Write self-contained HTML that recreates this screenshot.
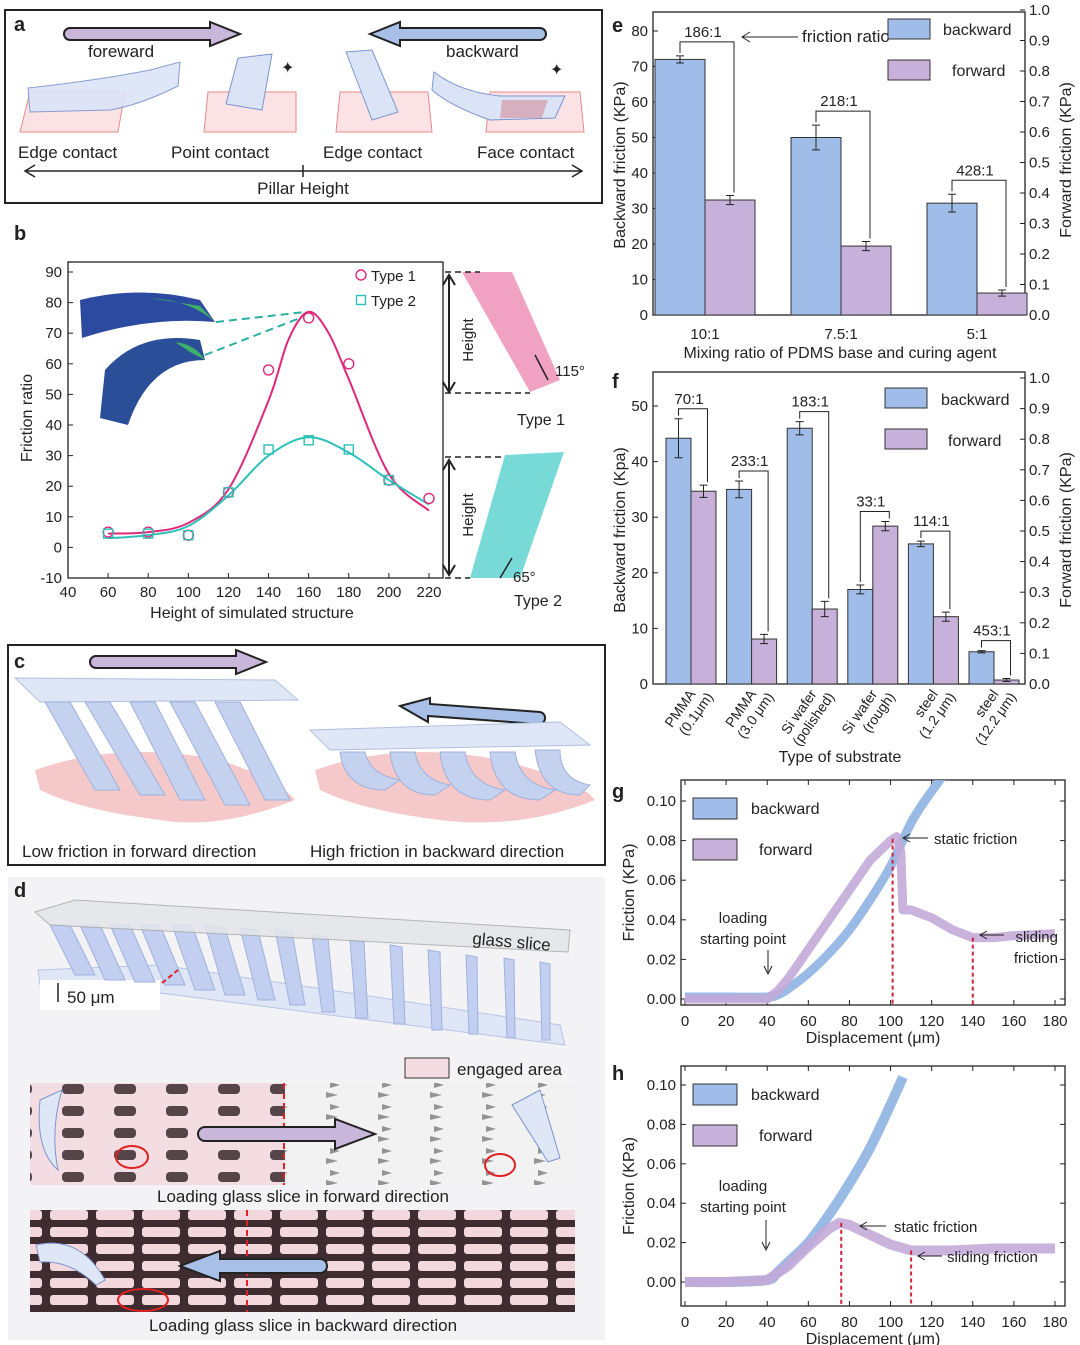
<!DOCTYPE html>
<html><head><meta charset="utf-8">
<style>
html,body{margin:0;padding:0;background:#fff;}
svg{display:block;font-family:"Liberation Sans",Arial,sans-serif;}
text{fill:#222;}
</style></head>
<body>
<svg id="fig" width="1080" height="1345" viewBox="0 0 1080 1345" xmlns="http://www.w3.org/2000/svg">
<defs>
 <pattern id="dashpat" width="52" height="22" patternUnits="userSpaceOnUse"><rect x="10" y="6" width="22" height="10" rx="4" fill="#3a2a2e" opacity="0.85"/></pattern>
 <pattern id="dashpat2" width="52" height="22" patternUnits="userSpaceOnUse"><path d="M18 4 l10 3 l-10 3z M14 14 l12 3 l-12 3z" fill="#555" opacity="0.6"/></pattern>
 <pattern id="gridpat" width="46" height="17" patternUnits="userSpaceOnUse"><rect width="46" height="17" fill="#3f2c30"/><rect x="4" y="3" width="38" height="10" rx="3" fill="#f2d8dd"/></pattern>
</defs>

<!-- PANEL A -->
<g>
 <rect x="5" y="10" width="597" height="193" fill="none" stroke="#222" stroke-width="2"/>
 <text x="14" y="31" font-size="20" font-weight="bold">a</text>
 <path d="M70 28 h140 v-6 l30 12 l-30 12 v-6 h-140 a6 6 0 0 1 0 -12z" fill="#c9b6db" stroke="#222" stroke-width="2"/>
 <text x="88" y="57" font-size="17">foreward</text>
 <path d="M540 28 h-140 v-6 l-30 12 l30 12 v-6 h140 a6 6 0 0 0 0 -12z" fill="#a8c0e8" stroke="#222" stroke-width="2"/>
 <text x="446" y="57" font-size="17">backward</text>
 <polygon points="30,92 125,92 118,132 20,132" fill="#fbe3e5" stroke="#e58a8a"/>
 <path d="M28 88 Q100 80 150 70 L180 62 L178 86 Q140 105 110 110 L30 112z" fill="#dbe4f7" stroke="#7c95cf" opacity="0.9"/>
 <polygon points="208,92 296,92 296,132 204,132" fill="#fbe3e5" stroke="#e58a8a"/>
 <polygon points="238,58 272,54 262,110 226,104" fill="#dbe4f7" stroke="#7c95cf"/>
 <text x="281" y="73" font-size="16" fill="#4a5ab0">✦</text>
 <polygon points="340,92 428,92 432,132 336,132" fill="#fbe3e5" stroke="#e58a8a"/>
 <polygon points="346,52 372,50 398,112 372,120" fill="#dbe4f7" stroke="#7c95cf"/>
 <polygon points="490,92 580,92 584,132 486,132" fill="#fbe3e5" stroke="#e58a8a"/>
 <path d="M434 72 Q460 92 500 96 L565 96 L555 118 L490 120 Q450 106 432 90z" fill="#dbe4f7" stroke="#7c95cf"/>
 <polygon points="502,100 548,100 542,118 500,118" fill="#d59aa8" opacity="0.7"/>
 <text x="550" y="75" font-size="16" fill="#4a5ab0">✦</text>
 <text x="18" y="158" font-size="17">Edge contact</text>
 <text x="171" y="158" font-size="17">Point contact</text>
 <text x="323" y="158" font-size="17">Edge contact</text>
 <text x="477" y="158" font-size="17">Face contact</text>
 <line x1="25" y1="171" x2="582" y2="171" stroke="#222" stroke-width="1.5"/>
 <path d="M35 165 L25 171 L35 177 M572 165 L582 171 L572 177" fill="none" stroke="#222" stroke-width="1.5"/>
 <line x1="303" y1="165" x2="303" y2="177" stroke="#222" stroke-width="1.5"/>
 <text x="303" y="194" font-size="17" text-anchor="middle">Pillar Height</text>
</g>

<!-- PANEL B -->
<g id="pb">
 <text x="14" y="240" font-size="20" font-weight="bold">b</text>
 <path d="M80 300 Q140 285 200 300 L215 322 Q150 316 82 338z" fill="#2b4aa0"/>
 <path d="M150 298 Q190 300 215 322 L200 306z" fill="#3eae6a"/>
 <path d="M105 370 Q140 330 200 340 L205 360 Q150 360 128 425 L100 418z" fill="#2a4e98"/>
 <path d="M175 342 Q195 344 205 360 L190 352z" fill="#3eae6a"/>
 <line x1="216" y1="322" x2="305" y2="312" stroke="#2ab0a0" stroke-width="2" stroke-dasharray="8,5"/>
 <line x1="205" y1="355" x2="300" y2="318" stroke="#2ab0a0" stroke-width="2" stroke-dasharray="8,5"/>
 <polygon points="462,272 512,272 560,380 530,392" fill="#ef90b6" opacity="0.85"/>
 <line x1="449" y1="275" x2="449" y2="392" stroke="#222" stroke-width="2"/>
 <path d="M443 285 L449 275 L455 285 M443 382 L449 392 L455 382" fill="none" stroke="#222" stroke-width="2"/>
 <line x1="445" y1="272" x2="480" y2="272" stroke="#222" stroke-width="1.5" stroke-dasharray="6,4"/>
 <line x1="445" y1="393" x2="530" y2="393" stroke="#222" stroke-width="1.5" stroke-dasharray="6,4"/>
 <text x="473" y="340" font-size="15" transform="rotate(-90 473 340)" text-anchor="middle">Height</text>
 <line x1="548" y1="380" x2="535" y2="355" stroke="#222" stroke-width="1.5"/>
 <text x="555" y="376" font-size="15">115°</text>
 <text x="517" y="425" font-size="16">Type 1</text>
 <polygon points="505,455 564,452 520,578 470,578" fill="#5fd3d0" opacity="0.85"/>
 <line x1="449" y1="460" x2="449" y2="575" stroke="#222" stroke-width="2"/>
 <path d="M443 470 L449 460 L455 470 M443 565 L449 575 L455 565" fill="none" stroke="#222" stroke-width="2"/>
 <line x1="445" y1="457" x2="505" y2="457" stroke="#222" stroke-width="1.5" stroke-dasharray="6,4"/>
 <line x1="445" y1="578" x2="470" y2="578" stroke="#222" stroke-width="1.5" stroke-dasharray="6,4"/>
 <text x="473" y="515" font-size="15" transform="rotate(-90 473 515)" text-anchor="middle">Height</text>
 <line x1="500" y1="578" x2="512" y2="558" stroke="#222" stroke-width="1.5"/>
 <text x="513" y="582" font-size="15">65°</text>
 <text x="514" y="606" font-size="16">Type 2</text>
</g>

<!-- PANEL C -->
<g>
 <rect x="8" y="645" width="597" height="220" fill="none" stroke="#222" stroke-width="2"/>
 <text x="14" y="668" font-size="20" font-weight="bold">c</text>
 <path d="M96 656 h140 v-6 l30 12 l-30 12 v-6 h-140 a6 6 0 0 1 0 -12z" fill="#c9b6db" stroke="#222" stroke-width="2"/>
 <path d="M540 712 l-110 -8 v-6 l-30 8 l28 16 v-6 l110 8 a6 6 0 0 0 2 -12z" fill="#a8c0e8" stroke="#222" stroke-width="2"/>
 <path d="M35 770 Q120 740 220 760 Q280 780 295 800 Q220 830 160 820 Q80 810 40 790z" fill="#f5c9c9"/>
 <polygon points="15,678 275,680 298,700 40,702" fill="#dfe6f6" stroke="#b0bfe0"/>
 <g fill="#c5d2ef" stroke="#9fb1dd">
  <polygon points="45,702 70,702 120,790 95,790"/><polygon points="85,702 110,702 165,795 140,795"/>
  <polygon points="130,702 155,702 205,800 180,800"/><polygon points="170,702 195,702 250,805 225,805"/>
  <polygon points="215,702 240,702 290,800 265,800"/>
 </g>
 <path d="M315 770 Q400 740 500 760 Q580 780 595 800 Q520 830 440 820 Q360 810 320 790z" fill="#f5c9c9"/>
 <polygon points="310,730 560,722 590,745 330,750" fill="#dfe6f6" stroke="#b0bfe0"/>
 <g fill="#c5d2ef" stroke="#9fb1dd">
  <path d="M340 752 Q345 790 385 790 L400 780 Q370 775 365 752z"/><path d="M390 752 Q395 795 435 795 L450 785 Q420 780 415 752z"/>
  <path d="M440 752 Q445 800 490 800 L505 790 Q470 785 465 752z"/><path d="M490 752 Q495 800 540 800 L555 790 Q520 785 515 752z"/>
  <path d="M535 750 Q540 795 580 795 L590 785 Q560 780 560 750z"/>
 </g>
 <text x="22" y="857" font-size="17">Low friction in forward direction</text>
 <text x="310" y="857" font-size="17">High friction in backward direction</text>
</g>

<!-- PANEL D -->
<g>
 <rect x="8" y="877" width="597" height="463" fill="#f3f3f5"/>
 <text x="14" y="897" font-size="20" font-weight="bold">d</text>
 <path d="M38 970 L160 965 L330 990 L560 1025 L565 1045 L330 1015 L160 993 L40 985z" fill="#dfe6f6" stroke="#b7c4e6"/>
 <rect x="40" y="980" width="120" height="30" fill="#fff"/>
 <g fill="#c2cff0" stroke="#9fb1dd">
  <polygon points="50,925 70,925 95,975 75,975"/><polygon points="80,925 100,925 125,980 105,980"/>
  <polygon points="110,925 130,925 155,982 135,982"/><polygon points="140,925 160,925 185,985 165,985"/>
  <polygon points="172,925 192,925 215,990 195,990"/><polygon points="205,925 225,928 245,995 225,995"/>
  <polygon points="240,928 258,930 275,1000 258,1000"/><polygon points="275,930 292,932 305,1005 290,1005"/>
  <polygon points="312,935 328,937 335,1012 322,1012"/><polygon points="350,940 364,942 368,1018 356,1018"/>
  <polygon points="390,945 402,947 405,1024 394,1024"/><polygon points="428,950 440,952 442,1030 432,1030"/>
  <polygon points="466,955 477,957 478,1034 469,1034"/><polygon points="504,958 514,960 515,1038 507,1038"/>
  <polygon points="540,962 550,964 550,1040 542,1040"/>
 </g>
 <polygon points="35,912 75,900 570,930 568,952 50,925" fill="#e4e6ea" stroke="#aaa" opacity="0.85"/>
 <text x="472" y="944" font-size="17" transform="rotate(5 472 944)">glass slice</text>
 <line x1="58" y1="983" x2="58" y2="1002" stroke="#222" stroke-width="1.5"/>
 <text x="67" y="1003" font-size="17">50 μm</text>
 <line x1="162" y1="983" x2="178" y2="970" stroke="#d22" stroke-width="2" stroke-dasharray="5,3"/>
 <rect x="405" y="1058" width="44" height="20" fill="#f4dde2" stroke="#333"/>
 <text x="457" y="1075" font-size="17">engaged area</text>
 <g>
  <rect x="30" y="1083" width="255" height="102" fill="#f4dde2"/>
  <rect x="30" y="1083" width="255" height="102" fill="url(#dashpat)"/>
  <rect x="285" y="1083" width="290" height="102" fill="#f2f2f2"/>
  <rect x="285" y="1083" width="290" height="102" fill="url(#dashpat2)"/>
  <line x1="284" y1="1083" x2="284" y2="1185" stroke="#d22" stroke-width="2" stroke-dasharray="6,4"/>
  <path d="M205 1127 h130 v-8 l40 15 l-40 15 v-8 h-130 a7 7 0 0 1 0 -14z" fill="#c9b6db" stroke="#222" stroke-width="2"/>
  <ellipse cx="132" cy="1157" rx="16" ry="11" fill="none" stroke="#d22" stroke-width="2"/>
  <ellipse cx="500" cy="1165" rx="15" ry="11" fill="none" stroke="#d22" stroke-width="2"/>
  <path d="M40 1100 L62 1090 Q50 1130 58 1170 Q35 1150 40 1100z" fill="#dfe7f6" stroke="#7c95cf"/>
  <polygon points="512,1105 540,1090 560,1158 548,1162" fill="#dfe7f6" stroke="#7c95cf"/>
 </g>
 <text x="303" y="1202" font-size="17" text-anchor="middle">Loading glass slice in forward direction</text>
 <g>
  <rect x="30" y="1210" width="545" height="102" fill="url(#gridpat)"/>
  <line x1="247" y1="1210" x2="247" y2="1312" stroke="#d22" stroke-width="2" stroke-dasharray="6,4"/>
  <path d="M320 1259 h-100 v-8 l-40 15 l40 15 v-8 h100 a7 7 0 0 0 0 -14z" fill="#a8c0e8" stroke="#222" stroke-width="2"/>
  <ellipse cx="143" cy="1300" rx="25" ry="11" fill="none" stroke="#d22" stroke-width="2"/>
  <path d="M36 1245 Q80 1235 105 1280 L96 1285 Q70 1260 40 1262z" fill="#dfe7f6" stroke="#7c95cf"/>
 </g>
 <text x="303" y="1331" font-size="17" text-anchor="middle">Loading glass slice in backward direction</text>
</g>

<text x="612" y="32" font-size="20" font-weight="bold">e</text>
<text x="612" y="388" font-size="20" font-weight="bold">f</text>
<text x="612" y="798" font-size="20" font-weight="bold">g</text>
<text x="612" y="1080" font-size="20" font-weight="bold">h</text>
<g id="charts"></g>
</svg>

<script>
// ===== Panel b data =====
const bXTicks = [40,60,80,100,120,140,160,180,200,220];
const bYTicks = [-10,0,10,20,30,40,50,60,70,80,90];
const bType1X = [60,80,100,120,140,160,180,200,220];
const bType1Y = [5,5,4,18,58,75,60,22,16];
const bType2X = [60,80,100,120,140,160,180,200];
const bType2Y = [4.5,4.5,4,18,32,35,32,22];
const bFit1X = [60,80,100,120,140,150,160,170,180,200,220];
const bFit1Y = [4.5,5,8,19,48,68,77,70,55,24,12];
const bFit2X = [60,80,100,120,140,160,180,200,220];
const bFit2Y = [3,4,7,17,30,36,31,22,14];
// ===== Panel e data =====
const eCats = ["10:1","7.5:1","5:1"];
const eBackward = [72,50,31.5];
const eBackErr = [1,3.5,2.5];
const eForward = [0.377,0.226,0.072];
const eFwdErr = [0.015,0.015,0.01];
const eRatios = ["186:1","218:1","428:1"];
const eLeftTicks = [0,10,20,30,40,50,60,70,80];
const eRightTicks = [0,0.1,0.2,0.3,0.4,0.5,0.6,0.7,0.8,0.9,1.0];
// ===== Panel f data =====
const fCats = [["PMMA","(0.1μm)"],["PMMA","(3.0 μm)"],["Si wafer","(polished)"],["Si wafer","(rough)"],["steel","(1.2 μm)"],["steel","(12.2 μm)"]];
const fBackward = [44.2,35,46,17,25.2,5.8];
const fBackErr = [3.5,1.5,1.2,0.8,0.5,0.2];
const fForward = [0.63,0.147,0.245,0.516,0.22,0.013];
const fFwdErr = [0.02,0.015,0.025,0.015,0.015,0.005];
const fRatios = ["70:1","233:1","183:1","33:1","114:1","453:1"];
const fLeftTicks = [0,10,20,30,40,50];
const fRightTicks = [0,0.1,0.2,0.3,0.4,0.5,0.6,0.7,0.8,0.9,1.0];
// ===== Panel g data =====
const gXTicks = [0,20,40,60,80,100,120,140,160,180];
const gYTicks = [0,0.02,0.04,0.06,0.08,0.10];
const gBackX = [0,20,40,45,50,60,70,80,90,100,110,118,125];
const gBackY = [0.001,0.001,0.001,0.002,0.005,0.013,0.023,0.035,0.05,0.067,0.089,0.102,0.112];
const gFwdX = [0,20,40,45,50,60,70,80,90,100,103,105,106,110,120,130,140,150,160,180];
const gFwdY = [0,0,0,0.004,0.01,0.025,0.04,0.055,0.07,0.08,0.082,0.074,0.045,0.045,0.041,0.035,0.031,0.031,0.032,0.033];
// ===== Panel h data =====
const hXTicks = [0,20,40,60,80,100,120,140,160,180];
const hYTicks = [0,0.02,0.04,0.06,0.08,0.10];
const hBackX = [0,20,40,45,50,60,70,80,90,100,106];
const hBackY = [0,0,0.001,0.005,0.01,0.02,0.034,0.05,0.068,0.09,0.104];
const hFwdX = [0,20,40,50,60,70,75,80,90,100,110,130,150,180];
const hFwdY = [0,0,0.001,0.008,0.018,0.027,0.03,0.029,0.024,0.019,0.016,0.016,0.017,0.017];

const NS = "http://www.w3.org/2000/svg";
const root = document.getElementById("charts");
function mk(tag, attrs, parent){ const e=document.createElementNS(NS,tag); for(const k in attrs) e.setAttribute(k,attrs[k]); (parent||root).appendChild(e); return e; }
function txt(x,y,s,size,anchor,parent){ const t=mk("text",{x:x,y:y,"font-size":size||15,"text-anchor":anchor||"start"},parent); t.textContent=s; return t; }
function smooth(pts){ let d="M"+pts[0][0]+" "+pts[0][1]; for(let i=0;i<pts.length-1;i++){ const p0=pts[i-1]||pts[i],p1=pts[i],p2=pts[i+1],p3=pts[i+2]||p2; d+=" C"+(p1[0]+(p2[0]-p0[0])/6)+" "+(p1[1]+(p2[1]-p0[1])/6)+" "+(p2[0]-(p3[0]-p1[0])/6)+" "+(p2[1]-(p3[1]-p1[1])/6)+" "+p2[0]+" "+p2[1]; } return d; }
const BLUE="#9fbde8", PURP="#c7b1da";

// ---------- Panel b ----------
(function(){
 const g=mk("g",{});
 
 
 const L=68,R=443,T=262,B=578;
 const xs=v=>68+(v-40)*(429-68)/180, ys=v=>578-(v+10)*3.06;
 mk("rect",{x:L,y:T,width:R-L,height:B-T,fill:"none",stroke:"#222","stroke-width":1.3},g);
 bXTicks.forEach(v=>{ mk("line",{x1:xs(v),y1:B,x2:xs(v),y2:B-5,stroke:"#222"},g); const t=txt(xs(v),597,String(v),15,"middle",g);   });
 bYTicks.forEach(v=>{ mk("line",{x1:L,y1:ys(v),x2:L+5,y2:ys(v),stroke:"#222"},g); const t=txt(L-6,ys(v)+5,String(v),15,"end",g);   });
 const xt=txt(252,618,"Height of simulated structure",16,"middle",g);
  
 const yt=txt(0,0,"Friction ratio",16,"middle",g); yt.setAttribute("transform","translate(32 418) rotate(-90)");
  
 const f1=mk("path",{d:smooth(bFit1X.map((x,i)=>[xs(x),ys(bFit1Y[i])])),fill:"none",stroke:"#e0287a","stroke-width":2},g);
  
 const f2=mk("path",{d:smooth(bFit2X.map((x,i)=>[xs(x),ys(bFit2Y[i])])),fill:"none",stroke:"#2cc0b8","stroke-width":2},g);
  
 bType1X.forEach((x,i)=>{ const c=mk("circle",{cx:xs(x),cy:ys(bType1Y[i]),r:5,fill:"none",stroke:"#e0287a","stroke-width":1.4},g);   });
 bType2X.forEach((x,i)=>{ const c=mk("rect",{x:xs(x)-4.5,y:ys(bType2Y[i])-4.5,width:9,height:9,fill:"none",stroke:"#2cc0b8","stroke-width":1.4},g);   });
 mk("circle",{cx:361,cy:275,r:5,fill:"none",stroke:"#e0287a","stroke-width":1.4},g);
 txt(371,281,"Type 1",15,"start",g);
 mk("rect",{x:356.5,y:295.5,width:9,height:9,fill:"none",stroke:"#2cc0b8","stroke-width":1.4},g);
 txt(371,306,"Type 2",15,"start",g);
})();

// ---------- bar charts ----------
function barChart(o){
 const g=mk("g",{});
 
 
 const yl=v=>o.B-v*o.lk, yr=v=>o.B-v*o.rk;
 mk("rect",{x:o.L,y:o.T,width:o.R-o.L,height:o.B-o.T,fill:"none",stroke:"#222","stroke-width":1.3},g);
 o.leftTicks.forEach(v=>{ mk("line",{x1:o.L,y1:yl(v),x2:o.L+5,y2:yl(v),stroke:"#222"},g); const t=txt(o.L-5,yl(v)+5,String(v),15,"end",g);   });
 o.rightTicks.forEach(v=>{ mk("line",{x1:o.R,y1:yr(v),x2:o.R-5,y2:yr(v),stroke:"#222"},g); const t=txt(o.R+4,yr(v)+5,v.toFixed(1),15,"start",g);   });
 o.back.forEach((v,i)=>{
  const x=o.x0+i*o.step;
  const b=mk("rect",{x:x,y:yl(v),width:o.bw,height:v*o.lk,fill:BLUE,stroke:"#333","stroke-width":1},g);
   
  const e1=mk("path",{d:`M${x+o.bw/2} ${yl(v+o.backErr[i])} V${yl(v-o.backErr[i])} M${x+o.bw/2-4} ${yl(v+o.backErr[i])} h8 M${x+o.bw/2-4} ${yl(v-o.backErr[i])} h8`,stroke:"#222",fill:"none"},g);
   
  const fv=o.fwd[i], fx=x+o.bw;
  const f=mk("rect",{x:fx,y:yr(fv),width:o.bw,height:fv*o.rk,fill:PURP,stroke:"#333","stroke-width":1},g);
   
  const e2=mk("path",{d:`M${fx+o.bw/2} ${yr(fv+o.fwdErr[i])} V${yr(fv-o.fwdErr[i])} M${fx+o.bw/2-4} ${yr(fv+o.fwdErr[i])} h8 M${fx+o.bw/2-4} ${yr(fv-o.fwdErr[i])} h8`,stroke:"#222",fill:"none"},g);
   
  const topY=Math.min(yl(v+o.backErr[i]),yr(fv+o.fwdErr[i]))-o.br;
  const br=mk("path",{d:`M${x+o.bw/2} ${yl(v+o.backErr[i])-3} V${topY} H${fx+o.bw/2+4} V${yr(fv+o.fwdErr[i])-3}`,stroke:"#222",fill:"none"},g);
   
  const rt=txt(x+o.bw-2,topY-5,o.ratios[i],15,"middle",g);
   
  o.catLabel(g,x,i);
 });
 return g;
}
const ge=barChart({name:"mixing-ratio-chart",L:653,R:1025,T:12,B:315,lk:3.55,rk:305,x0:655,step:136,bw:50,br:14,
 back:eBackward,backErr:eBackErr,fwd:eForward,fwdErr:eFwdErr,ratios:eRatios,leftTicks:eLeftTicks,rightTicks:eRightTicks,
 catLabel:(g,x,i)=>{ const t=txt(x+50,339,eCats[i],15,"middle",g);   }});
(function(){
 const t=txt(840,358,"Mixing ratio of PDMS base and curing agent",16,"middle",ge);  
 const y1=txt(0,0,"Backward friction (KPa)",16,"middle",ge); y1.setAttribute("transform","translate(625 165) rotate(-90)");  
 const y2=txt(0,0,"Forward friction (KPa)",16,"middle",ge); y2.setAttribute("transform","translate(1071 160) rotate(-90)");  
 mk("path",{d:"M742 37 H798 M750 32 L742 37 L750 42",stroke:"#222",fill:"none"},ge);
 txt(802,42,"friction ratio",17,"start",ge);
 const l1=mk("rect",{x:888,y:19,width:42,height:20,fill:BLUE,stroke:"#333"},ge);  
 txt(943,35,"backward",16,"start",ge);
 const l2=mk("rect",{x:888,y:60,width:42,height:20,fill:PURP,stroke:"#333"},ge);  
 txt(952,76,"forward",16,"start",ge);
})();
const gf=barChart({name:"substrate-chart",L:653,R:1025,T:372,B:684,lk:5.56,rk:306,x0:666,step:60.6,bw:25,br:10,
 back:fBackward,backErr:fBackErr,fwd:fForward,fwdErr:fFwdErr,ratios:fRatios,leftTicks:fLeftTicks,rightTicks:fRightTicks,
 catLabel:(g,x,i)=>{ const t=mk("text",{"font-size":14,"text-anchor":"end",transform:`translate(${x+30} 694) rotate(-55)`},g);  
   const a=mk("tspan",{x:0,dy:0},t); a.textContent=fCats[i][0]; const b=mk("tspan",{x:8,dy:16},t); b.textContent=fCats[i][1]; }});
(function(){
 const t=txt(840,762,"Type of substrate",16,"middle",gf);  
 const y1=txt(0,0,"Backward friction (Kpa)",16,"middle",gf); y1.setAttribute("transform","translate(625 530) rotate(-90)");  
 const y2=txt(0,0,"Forward friction (KPa)",16,"middle",gf); y2.setAttribute("transform","translate(1071 530) rotate(-90)");  
 const l1=mk("rect",{x:885,y:388,width:42,height:20,fill:BLUE,stroke:"#333"},gf);  
 txt(941,405,"backward",16,"start",gf);
 const l2=mk("rect",{x:885,y:429,width:42,height:20,fill:PURP,stroke:"#333"},gf);  
 txt(948,446,"forward",16,"start",gf);
})();

function lineChart(o){
 const g=mk("g",{});
 
 
 const xs=v=>685+v*(1055-685)/180, ys=v=>o.y0-v*o.k;
 mk("rect",{x:681,y:o.T,width:384,height:o.B-o.T,fill:"none",stroke:"#222","stroke-width":1.3},g);
 o.xTicks.forEach(v=>{ mk("line",{x1:xs(v),y1:o.B,x2:xs(v),y2:o.B-5,stroke:"#222"},g); mk("line",{x1:xs(v),y1:o.T,x2:xs(v),y2:o.T+5,stroke:"#222"},g); const t=txt(xs(v),o.B+21,String(v),15,"middle",g);   });
 o.yTicks.forEach(v=>{ mk("line",{x1:681,y1:ys(v),x2:686,y2:ys(v),stroke:"#222"},g); mk("line",{x1:1065,y1:ys(v),x2:1060,y2:ys(v),stroke:"#222"},g); const t=txt(676,ys(v)+5,v.toFixed(2),15,"end",g);   });
 const cp=mk("clipPath",{id:o.name+"-clip"},g); mk("rect",{x:681,y:o.T,width:384,height:o.B-o.T},cp);
 const inner=mk("g",{"clip-path":`url(#${o.name}-clip)`},g);
 const pb=mk("path",{d:smooth(o.bx.map((x,i)=>[xs(x),ys(o.by[i])])),fill:"none",stroke:"#8fb2e3","stroke-width":o.w,"stroke-linejoin":"round",opacity:0.9},inner);
  
 const pf=mk("path",{d:"M"+o.fx.map((x,i)=>xs(x)+" "+ys(o.fy[i])).join(" L"),fill:"none",stroke:"#c3aad8","stroke-width":o.w,"stroke-linejoin":"round",opacity:0.9},inner);
  
 const xt=txt(873,o.B+38,"Displacement (μm)",16,"middle",g);  
 const yt=txt(0,0,"Friction (KPa)",16,"middle",g); yt.setAttribute("transform",`translate(634 ${(o.T+o.B)/2}) rotate(-90)`);  
 const l1=mk("rect",{x:693,y:o.T+18,width:44,height:21,fill:BLUE,stroke:"#333"},g);  
 txt(751,o.T+34,"backward",16,"start",g);
 const l2=mk("rect",{x:693,y:o.T+59,width:44,height:21,fill:PURP,stroke:"#333"},g);  
 txt(759,o.T+75,"forward",16,"start",g);
 o.markers.forEach(m=>{ const d=mk("line",{x1:xs(m[0]),y1:ys(m[1]),x2:xs(m[0]),y2:o.B,stroke:"#d0243a","stroke-width":2,"stroke-dasharray":"4,3"},g);   });
 return {g,xs,ys};
}
const G=lineChart({name:"panel-g-chart",T:780,B:1005,y0:999,k:1980,xTicks:gXTicks,yTicks:gYTicks,bx:gBackX,by:gBackY,fx:gFwdX,fy:gFwdY,w:9,markers:[[101,0.081],[140,0.031]]});
txt(743,923,"loading",15,"middle",G.g); txt(743,944,"starting point",15,"middle",G.g);
mk("path",{d:"M768 950 V972 M764 966 L768 974 L772 966",stroke:"#222",fill:"none"},G.g);
mk("path",{d:"M903 838 H928 M910 834 L903 838 L910 842",stroke:"#222",fill:"none"},G.g);
txt(934,844,"static friction",15,"start",G.g);
mk("path",{d:"M980 935 H1004 M987 931 L980 935 L987 939",stroke:"#222",fill:"none"},G.g);
txt(1058,942,"sliding",15,"end",G.g); txt(1058,963,"friction",15,"end",G.g);
const H=lineChart({name:"panel-h-chart",T:1066,B:1306,y0:1282,k:1970,xTicks:hXTicks,yTicks:hYTicks,bx:hBackX,by:hBackY,fx:hFwdX,fy:hFwdY,w:10,markers:[[76,0.03],[110,0.016]]});
txt(743,1191,"loading",15,"middle",H.g); txt(743,1212,"starting point",15,"middle",H.g);
mk("path",{d:"M766 1220 V1248 M762 1242 L766 1250 L770 1242",stroke:"#222",fill:"none"},H.g);
mk("path",{d:"M860 1226 H886 M867 1222 L860 1226 L867 1230",stroke:"#222",fill:"none"},H.g);
txt(894,1232,"static friction",15,"start",H.g);
mk("path",{d:"M918 1256 H942 M925 1252 L918 1256 L925 1260",stroke:"#222",fill:"none"},H.g);
txt(947,1262,"sliding friction",15,"start",H.g);
</script>
</body></html>
